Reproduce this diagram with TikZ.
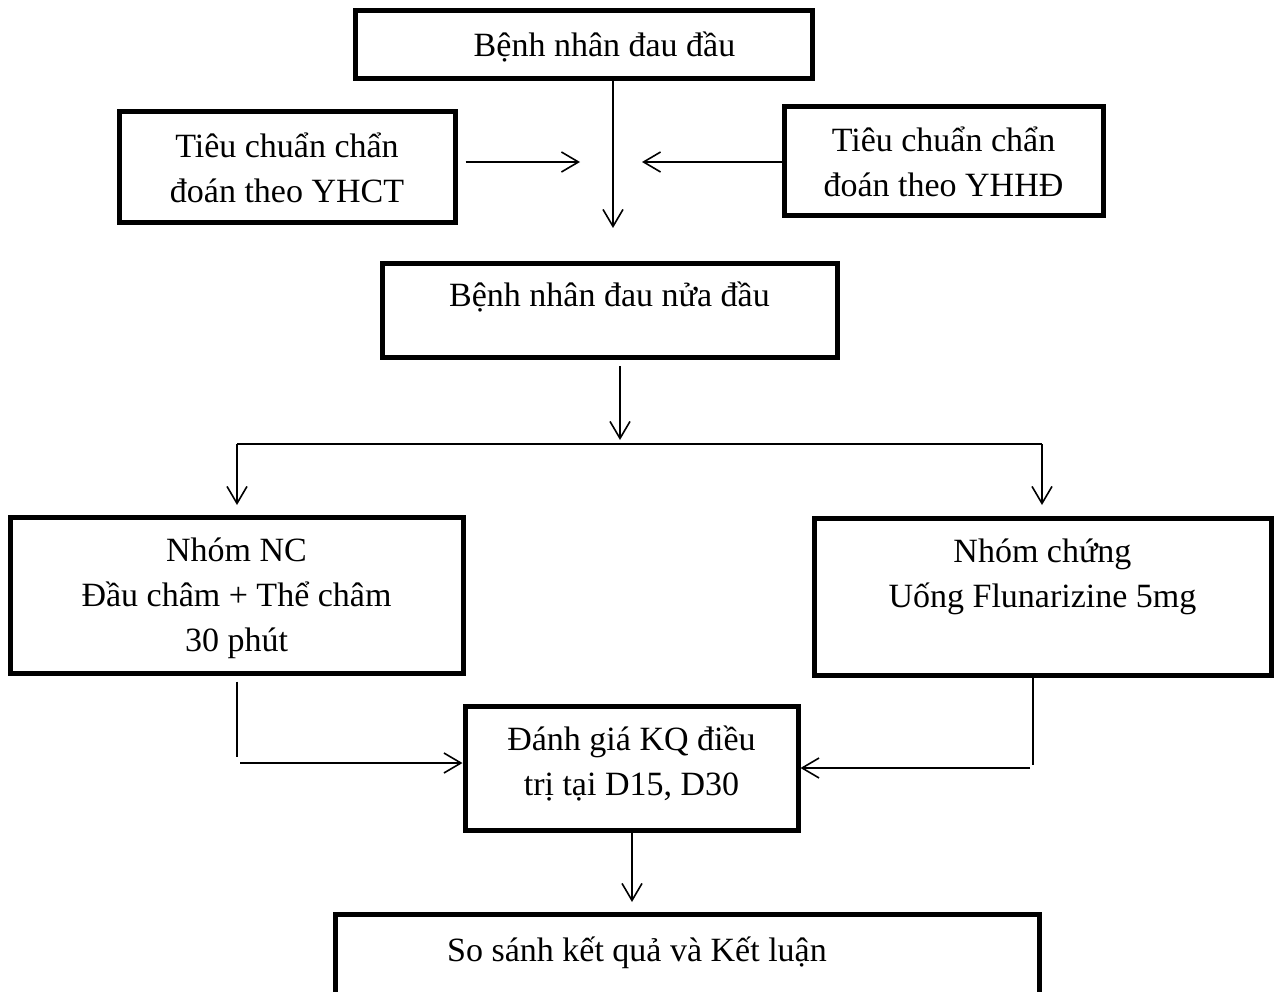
\documentclass[tikz,border=0pt]{standalone}
\usepackage{fontspec}
\setmainfont{Liberation Serif}
\usetikzlibrary{arrows.meta}
\tikzstyle{box}=[rectangle,draw=black,line width=5pt,inner sep=0pt]
\tikzstyle{txt}=[align=center,font=\fontsize{34}{45}\selectfont,inner sep=0pt]
\tikzstyle{ln}=[line width=1.6pt]
\tikzstyle{arr}=[line width=1.6pt,-{Straight Barb[length=17pt,width=20pt]}]

\begin{document}
\begin{tikzpicture}[x=1pt,y=-1pt]
	\useasboundingbox (0,0) rectangle (1275,992);
	% boxes
	\node[box,minimum width=457,minimum height=68,label={[txt,xshift=21,yshift=-2]center:Bệnh nhân đau đầu}] (bn) at (583.5,45) {};
	\node[box,minimum width=336,minimum height=111,label={[txt]center:Tiêu chuẩn chẩn\\đoán theo YHCT}] (yhct) at (287,167.5) {};
	\node[box,minimum width=319,minimum height=109,label={[txt]center:Tiêu chuẩn chẩn\\đoán theo YHHĐ}] (yhhd) at (943.5,161.5) {};
	\node[box,minimum width=455,minimum height=94,label={[txt,yshift=14]center:Bệnh nhân đau nửa đầu}] (mig) at (609.5,311) {};
	\node[box,minimum width=453,minimum height=156,label={[txt,yshift=-3]center:Nhóm NC\\Đầu châm + Thể châm\\30 phút}] (nc) at (236.5,595) {};
	\node[box,minimum width=457,minimum height=157,label={[txt,yshift=20]center:Nhóm chứng\\Uống Flunarizine 5mg}] (ctrl) at (1042.5,596.5) {};
	\node[box,minimum width=333,minimum height=124,label={[txt,yshift=4]center:Đánh giá KQ điều\\trị tại D15, D30}] (ev) at (631.5,768) {};
	\node[box,minimum width=704,minimum height=84,label={[txt,xshift=-50,yshift=3]center:So sánh kết quả và Kết luận}] (kl) at (687,956) {};
	% connectors
	\coordinate (c1) at (613,228);
	\draw[arr] (bn.south -| c1) -- (c1);
	\coordinate (c2) at (580,162);
	\draw[arr] (yhct.east |- c2) ++(8,0) -- (c2);
	\coordinate (c3) at (642,162);
	\draw[arr] (yhhd.west |- c3) -- (c3);
	\coordinate (c4) at (620,440);
	\draw[arr] (mig.south -| c4) ++(0,6) -- (c4);
	\coordinate (hl) at (237,444);
	\coordinate (hr) at (1042,444);
	\draw[ln] (hl) -- (hr);
	\coordinate (a1) at (237,505);
	\coordinate (a2) at (1042,505);
	\draw[arr] (hl) -- (a1);
	\draw[arr] (hr) -- (a2);
	\coordinate (l1) at (237,757);
	\draw[ln] (nc.south -| l1) ++(0,6) -- (l1);
	\coordinate (l2) at (240,763);
	\draw[arr] (l2) -- (ev.west |- l2);
	\coordinate (r1) at (1033,765);
	\draw[ln] (ctrl.south -| r1) -- (r1);
	\coordinate (r2) at (1030,768);
	\draw[arr] (r2) -- (ev.east |- r2);
	\coordinate (c5) at (632,902);
	\draw[arr] (ev.south -| c5) -- (c5);
\end{tikzpicture}
\end{document}
